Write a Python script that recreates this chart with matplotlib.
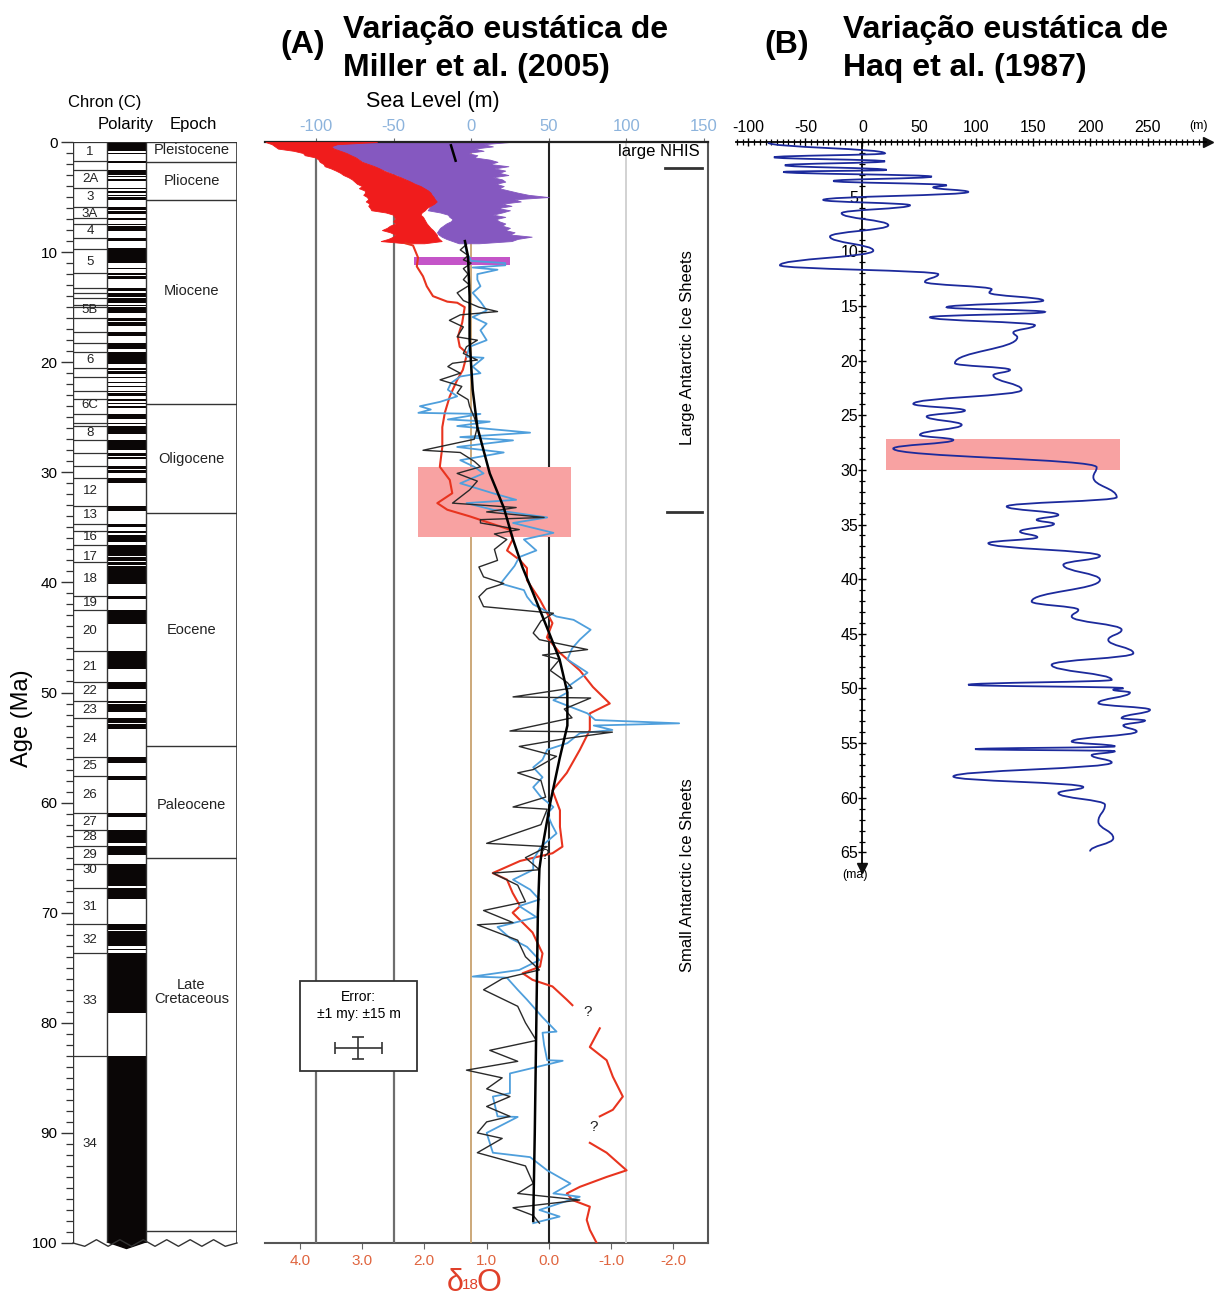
import numpy as np
import matplotlib
matplotlib.use('Agg')
import matplotlib.pyplot as plt
from matplotlib.patches import Rectangle, PathPatch, Polygon
from matplotlib.path import Path
from matplotlib.ticker import FixedLocator

plt.rcParams['font.family'] = ['Liberation Sans', 'DejaVu Sans']
plt.rcParams['axes.unicode_minus'] = False

# ---------------- DATA ----------------
# chron boxes (top age of each chron, Ma)
chron_tops = [0.0, 1.77, 2.58, 4.18, 5.89, 6.94, 7.43, 8.70, 9.74, 11.94, 13.30, 13.70, 14.18,
              14.80, 15.03, 16.01, 17.28, 18.28, 19.05, 20.52, 21.32, 22.59, 23.35, 24.73, 25.50,
              25.82, 27.03, 28.28, 29.40, 30.48, 33.06, 34.66, 35.34, 36.62, 38.11, 41.26, 42.54,
              46.26, 49.04, 50.78, 52.36, 55.90, 57.55, 60.92, 62.50, 63.98, 65.58, 67.74, 71.07,
              73.62, 83.00]
chron_labels = ['1', '2A', '3', '3A', '4', '5', '5B', '6', '6C', '8', '12', '13', '16', '17', '18',
                '19', '20', '21', '22', '23', '24', '25', '26', '27', '28', '29', '30', '31', '32',
                '33', '34']
chron_label_age = [0.9, 3.4, 5.0, 6.5, 8.1, 10.9, 15.3, 19.8, 23.9, 26.4, 31.7, 33.9, 35.9, 37.7,
                   39.7, 41.9, 44.4, 47.7, 49.9, 51.6, 54.2, 56.7, 59.3, 61.8, 63.1, 64.8, 66.1,
                   69.5, 72.5, 78.0, 91.0]

# normal polarity intervals (Ma)
pol_top = [0.00, 0.99, 1.77, 2.58, 3.11, 3.33, 4.18, 4.48, 4.80, 4.98, 5.89, 6.27, 6.94, 7.43, 7.65,
           8.23, 8.70, 9.31, 9.64, 9.74, 9.92, 11.05, 11.48, 11.94, 12.18, 12.78, 12.99, 13.30,
           13.70, 14.18, 14.80, 15.03, 15.16, 16.01, 16.33, 16.54, 17.28, 18.28, 19.05, 20.52,
           20.80, 21.32, 21.77, 22.15, 22.59, 22.80, 23.35, 23.68, 23.99, 24.73, 24.84, 25.50,
           25.82, 25.99, 27.03, 28.28, 28.58, 29.40, 29.77, 30.48, 33.06, 34.66, 35.34, 35.69,
           36.62, 37.50, 37.68, 38.11, 38.50, 41.26, 42.54, 46.26, 49.04, 50.78, 51.00, 52.36,
           52.70, 52.90, 55.90, 57.55, 60.92, 62.50, 63.98, 65.58, 67.74, 71.07, 71.69, 73.30,
           73.62, 83.00]
pol_base = [0.78, 1.07, 1.95, 3.04, 3.22, 3.58, 4.29, 4.62, 4.89, 5.23, 6.14, 6.57, 7.09, 7.56, 8.07,
            8.26, 9.03, 9.37, 9.72, 9.88, 10.95, 11.10, 11.53, 12.08, 12.40, 12.82, 13.03, 13.51,
            14.08, 14.61, 14.89, 15.16, 15.51, 16.29, 16.49, 16.73, 17.62, 18.78, 20.13, 20.73,
            21.08, 21.40, 21.86, 22.25, 22.75, 23.07, 23.53, 23.80, 24.12, 24.78, 25.18, 25.65,
            25.95, 26.55, 27.97, 28.51, 28.75, 29.66, 30.10, 30.94, 33.55, 34.94, 35.53, 36.34,
            37.47, 37.60, 38.03, 38.43, 40.13, 41.52, 43.79, 47.91, 49.71, 50.95, 51.74, 52.66,
            52.76, 53.35, 56.39, 57.91, 61.28, 63.63, 64.75, 67.61, 68.74, 71.59, 73.00, 73.37,
            79.08, 100.0]

epoch_bounds = [0.0, 1.8, 5.3, 23.8, 33.7, 54.9, 65.0, 98.9]
epoch_names = ['Pleistocene', 'Pliocene', 'Miocene', 'Oligocene', 'Eocene', 'Paleocene',
               'Late\nCretaceous']
epoch_label_age = [0.7, 3.5, 13.5, 28.8, 44.3, 60.2, 77.2]

# Panel A: high-resolution bands 0-9.2 Ma
band_age = [0.0, 0.2, 0.4, 0.6, 0.8, 1.0, 1.2, 1.4, 1.6, 1.8, 2.0, 2.2, 2.4, 2.6, 2.8, 3.0, 3.2,
            3.4, 3.6, 3.8, 4.0, 4.2, 4.4, 4.6, 4.8, 5.0, 5.2, 5.4, 5.6, 5.8, 6.0, 6.2, 6.4, 6.6,
            6.8, 7.0, 7.2, 7.4, 7.6, 7.8, 8.0, 8.2, 8.4, 8.6, 8.8, 9.0, 9.2]
purple_sl_low = [-60, -90, -92, -88, -85, -80, -78, -74, -72, -70, -66, -62, -60, -55, -52, -48,
                 -45, -42, -40, -36, -34, -32, -30, -28, -26, -25, -24, -24, -25, -26, -27, -28,
                 -20, -15, -14, -12, -13, -16, -18, -20, -21, -22, -21, -19, -16, -12, -8]
purple_sl_high = [25, 8, 14, 2, 8, -3, 4, 2, 12, 17, 12, 24, 15, 22, 18, 24, 14, 20, 22, 16, 21,
                  18, 24, 30, 37, 50, 28, 32, 20, 26, 17, 25, 20, 14, 22, 16, 18, 22, 20, 25, 22,
                  28, 25, 39, 30, 26, 5]
red_d18o_high = [4.55, 4.45, 4.40, 4.35, 4.10, 3.95, 3.92, 3.75, 3.70, 3.68, 3.62, 3.60, 3.50,
                 3.42, 3.35, 3.30, 3.22, 3.16, 3.12, 3.08, 3.00, 3.05, 2.96, 2.95, 2.98, 2.92,
                 2.90, 2.94, 2.88, 2.90, 2.87, 2.85, 2.62, 2.50, 2.48, 2.47, 2.50, 2.46, 2.55,
                 2.60, 2.68, 2.55, 2.47, 2.50, 2.58, 2.70, 2.30]
red_d18o_low = [2.76, 3.40, 3.50, 3.45, 3.35, 3.25, 3.18, 3.10, 3.05, 3.00, 2.90, 2.80, 2.72,
                2.65, 2.56, 2.47, 2.38, 2.30, 2.22, 2.15, 2.06, 2.00, 1.94, 1.90, 1.88, 1.85,
                1.83, 1.80, 1.84, 1.90, 1.96, 1.99, 2.04, 2.06, 2.02, 2.00, 1.98, 1.96, 1.93,
                1.90, 1.86, 1.83, 1.80, 1.79, 1.76, 1.72, 2.00]

# Panel A: benthic d18O line (NaN = gap)
red_age = [9.2, 9.4, 10.5, 11.3, 12.2, 13.1, 14.0, 14.5, 14.6, 15.0, 16.4, 17.7, 18.6, 19.2, 20.7,
           21.6, 23.1, 24.6, 25.9, 27.7, 29.5, 30.7, 31.9, 32.8, 33.4, 34.0, 34.6, 35.2, 36.1,
           37.1, 38.0, 38.7, 39.8, 41.6, 43.7, 45.0, 46.4, 48.0, 49.5, 51.0, 51.9, 53.4, 55.2,
           57.3, 58.9, 60.7, 62.2, 64.0, 64.6, 65.3, 66.4, 67.0, 68.2, 69.4, 70.0, 71.8, 73.7,
           74.9, 75.5, 76.1, 76.7, 77.9, 78.4, np.nan, 80.5, 82.2, 83.4, 84.9, 86.7, 87.9, 88.5,
           np.nan, 90.9, 91.8, 93.4, 94.0, 94.9, 95.5, 96.1, 96.7, 97.9, 98.8, 100.0]
red_d18o = [2.30, 2.18, 2.10, 2.12, 2.02, 1.96, 1.86, 1.63, 1.47, 1.35, 1.39, 1.46, 1.43, 1.31,
            1.38, 1.47, 1.59, 1.67, 1.71, 1.71, 1.75, 1.59, 1.55, 1.79, 1.63, 1.27, 0.95, 0.63,
            0.58, 0.67, 0.46, 0.35, 0.35, 0.14, -0.06, 0.03, -0.18, -0.50, -0.71, -0.98, -0.66,
            -0.66, -0.50, -0.29, -0.06, -0.18, -0.18, -0.22, -0.06, 0.46, 0.90, 0.67, 0.58, 0.46,
            0.58, 0.26, 0.10, 0.14, 0.42, 0.26, -0.06, -0.29, -0.38, np.nan, -0.82, -0.66, -0.93,
            -1.03, -1.19, -1.03, -0.82, np.nan, -0.66, -0.93, -1.25, -0.93, -0.50, -0.29, -0.38,
            -0.66, -0.61, -0.66, -0.77]

# Panel A: blue sea-level curve (m)
blue_age = [9.3, 10.0, 10.8, 11.0, 11.2, 11.4, 11.6, 12.0, 12.5, 13.1, 13.7, 14.5, 15.3, 15.9,
            16.5, 17.1, 18.0, 18.6, 19.5, 19.6, 20.4, 21.0, 21.3, 21.9, 22.5, 23.1, 23.6, 24.0,
            24.3, 24.6, 24.7, 25.2, 25.4, 25.8, 26.4, 26.8, 27.1, 27.7, 28.2, 28.9, 29.5, 30.1,
            31.0, 31.9, 32.5, 32.8, 33.4, 34.1, 34.6, 35.5, 36.1, 37.1, 37.7, 38.5, 40.1, 40.7,
            41.3, 42.0, 43.1, 43.4, 44.3, 45.2, 46.0, 47.0, 48.2, 49.5, 50.0, 50.7, 51.9, 52.5,
            52.8, 53.0, 53.4, 53.7, 54.6, 55.2, 56.1, 56.8, 57.7, 58.6, 59.5, 60.4, 61.0, 62.0,
            62.8, 64.0, 65.2, 66.1, 67.0, 67.9, 68.8, 69.4, 70.4, 71.3, 72.3, 73.1, 74.3, 75.2,
            75.8, 75.9, 77.0, 77.9, 79.5, 80.8, 80.9, 82.0, 83.4, 83.45, 84.6, 86.4, 86.7, 88.5,
            88.55, 90.0, 91.8, 92.2, 93.4, 94.6, 95.5, 95.8, 97.0, 97.6, 98.2]
blue_sl = [-4, -3, 0, 22, 22, 1, 17, 4, 4, 6, 1, 6, 10, 1, 10, 6, 10, -1, -3, 8, 1, 6, -7, -13,
           -15, -9, -20, -33, -26, -34, 6, -15, 12, -9, 38, -7, 27, -9, 21, -7, 2, 8, -7, 14, 29,
           -3, 14, 49, 27, 53, 34, 42, 31, 28, 19, 34, 36, 40, 55, 66, 77, 70, 65, 62, 75, 62, 62,
           53, 75, 80, 134, 79, 91, 70, 62, 49, 46, 40, 46, 40, 45, 53, 49, 52, 55, 45, 40, 40,
           27, 38, 44, 31, 42, 17, 25, 36, 44, 31, 1, 23, 30, 36, 46, 55, 46, 47, 49, 59, 25, 25,
           14, 17, 30, 10, 14, 38, 49, 64, 53, 70, 44, 57, 40]

# Panel A: black sea-level curve (m)
black_age = [9.3, 9.8, 10.3, 10.7, 11.0, 11.5, 12.0, 12.5, 13.0, 13.7, 14.4, 15.0, 15.4, 15.7,
             16.2, 16.8, 17.7, 18.0, 18.6, 19.2, 19.8, 20.1, 20.4, 21.0, 21.6, 22.2, 22.8, 23.4,
             24.0, 25.0, 25.9, 27.0, 28.0, 28.2, 29.0, 29.5, 30.1, 30.8, 31.6, 32.8, 33.2, 33.6,
             34.1, 34.3, 34.6, 35.2, 35.6, 36.1, 37.0, 38.0, 38.6, 39.5, 40.1, 40.6, 41.3, 42.2,
             42.8, 43.5, 44.6, 45.2, 46.1, 46.6, 47.0, 48.0, 49.1, 49.6, 50.4, 50.5, 51.5, 52.3,
             53.5, 53.6, 54.2, 54.9, 55.8, 57.0, 57.3, 58.0, 59.5, 60.4, 60.6, 62.0, 63.7, 64.0,
             65.0, 66.1, 66.4, 67.5, 69.0, 69.8, 70.9, 71.1, 72.5, 74.0, 75.2, 76.0, 77.0, 78.5,
             80.0, 81.6, 82.5, 83.5, 84.3, 85.0, 86.0, 86.7, 87.6, 88.5, 89.0, 90.0, 90.5, 91.8,
             93.0, 94.6, 95.5, 96.1, 96.8, 97.5, 98.2]
black_sl = [-3, -7, -2, -5, 0, -5, -2, -5, -1, -9, -5, 5, 17, -7, -14, -5, -9, 4, -3, -5, 4, -12,
            -15, -7, -20, -6, -9, -2, -1, 2, 4, 2, -31, -7, 2, 6, -9, 4, -1, -12, 29, 10, 47, 6,
            6, 31, 15, 23, 15, 17, 5, 8, 21, 10, 5, 8, 53, 45, 40, 44, 75, 46, 57, 51, 62, 65, 27,
            77, 60, 65, 25, 91, 60, 31, 55, 40, 30, 45, 48, 27, 49, 45, 10, 49, 35, 44, 14, 30,
            35, 8, 27, 4, 30, 35, 44, 20, 8, 30, 35, 42, 12, 30, -3, 20, 10, 25, 10, 25, 10, 4,
            20, 4, 35, 40, 30, 70, 27, 40, 44]

# Panel A: long-term trend (m)
trend_age = [0.3, 1.7, np.nan, 9.0, 10.4, 14.0, 18.0, 22.5, 25.9, 30.1, 33.2, 36.1, 38.6, 41.0,
             44.5, 47.0, 50.0, 53.0, 56.0, 60.0, 64.0, 66.0, 70.0, 80.0, 90.0, 98.0]
trend_sl = [-13, -10, np.nan, -4, -2, -1, -1, 1, 4, 12, 21, 27, 33, 40, 50, 57, 62, 62, 57, 51,
            46, 44, 43, 42, 41, 40]

# Panel B: Haq et al. (1987) curve turning points
haq_age = [0.06, 1.04, 1.40, 1.77, 2.13, 2.56, 2.74, 3.17, 3.57, 3.96, 4.15, 4.57, 5.30, 5.79,
           6.52, 7.62, 8.66, 9.94, 11.28, 12.10, 12.80, 13.48, 13.78, 14.51, 15.12, 15.55, 16.04,
           16.77, 17.44, 17.87, 20.24, 20.85, 21.34, 22.68, 23.96, 24.57, 25.12, 25.88, 26.80,
           27.26, 28.05, 29.76, 30.67, 32.50, 33.35, 34.12, 34.57, 34.94, 35.64, 36.16, 36.71,
           37.87, 38.69, 40.06, 42.04, 42.80, 43.41, 44.63, 45.55, 46.77, 47.84, 49.21, 49.66,
           49.97, 50.12, 50.37, 51.34, 51.95, 52.71, 52.93, 53.38, 53.93, 54.85, 55.30, 55.55,
           55.73, 56.10, 56.77, 58.05, 59.02, 59.57, 60.64, 62.16, 63.69, 64.91]
haq_sl = [-82.6, 19.7, -77.6, 19.7, -68.0, 21.2, -69.4, 60.7, -25.6, 73.8, 62.1, 92.8, -34.4,
          41.7, -18.3, 22.7, -28.5, 9.5, -72.4, 66.5, 54.8, 113.3, 111.3, 158.6, 73.8, 160.1,
          59.2, 151.3, 132.3, 135.8, 81.1, 129.4, 114.8, 139.6, 44.6, 89.9, 56.3, 87.0, 50.4,
          79.7, 27.0, 205.4, 202.5, 223.0, 126.5, 171.8, 152.8, 168.0, 138.2, 153.4, 110.4,
          208.3, 176.2, 208.3, 148.4, 189.3, 183.5, 227.3, 215.6, 237.6, 165.9, 218.6, 92.8,
          228.8, 220.0, 234.6, 206.9, 252.2, 227.3, 247.8, 228.8, 240.5, 183.5, 221.5, 98.7,
          221.5, 201.0, 218.6, 79.7, 193.7, 171.8, 212.7, 206.9, 220.0, 199.6]

sl_ticks_A = [-100, -50, 0, 50, 100, 150]
d18o_ticks = [4.0, 3.0, 2.0, 1.0, 0.0, -1.0, -2.0]
sl_ticks_B = [-100, -50, 0, 50, 100, 150, 200, 250]
age_ticks_B = [5, 10, 15, 20, 25, 30, 35, 40, 45, 50, 55, 60, 65]


def d2sl(d):
    return 50.0 - 40.1 * np.asarray(d, dtype=float)


def sl2d(s):
    return (50.0 - np.asarray(s, dtype=float)) / 40.1


# ---------------- FIGURE ----------------
W, H = 1221, 1297
fig = plt.figure(figsize=(W / 100, H / 100), dpi=100)


def fx(px):
    return px / W


def fy(py):
    return 1 - py / H


# ---------- chronostratigraphic column ----------
ax_c = fig.add_axes([fx(73), fy(1243), 164 / W, 1101 / H])
ax_c.set_xlim(0, 164)
ax_c.set_ylim(100, 0)
for s in ax_c.spines.values():
    s.set_visible(False)
ax_c.set_xticks([])
ax_c.set_yticks(np.arange(0, 101, 10))
ax_c.yaxis.set_minor_locator(FixedLocator(np.arange(0, 101, 1)))
ax_c.tick_params(axis='y', which='major', length=9, width=1.0, labelsize=11, pad=2, color='#333')
ax_c.tick_params(axis='y', which='minor', length=5, width=0.9, color='#333')
lc = '#333333'
ax_c.plot([0, 0], [0, 100], color=lc, lw=1.0)
ax_c.plot([34, 34], [0, 100], color=lc, lw=1.0)
ax_c.plot([73, 73], [0, 100], color=lc, lw=1.0)
ax_c.plot([164, 164], [0, 100], color=lc, lw=1.2)
ax_c.plot([0, 164], [0, 0], color=lc, lw=1.2)
ax_c.hlines(chron_tops, 0, 34, color=lc, lw=0.9)
pt = np.array(pol_top)
pb = np.array(pol_base)
ax_c.barh((pt + pb) / 2, 39, left=34, height=pb - pt, color='#0a0606', edgecolor='none')
ax_c.hlines(epoch_bounds, 73, 164, color=lc, lw=1.0)
for lab, a in zip(chron_labels, chron_label_age):
    ax_c.text(17, a, lab, ha='center', va='center', fontsize=9.5, color='#222')
for name, a in zip(epoch_names, epoch_label_age):
    ax_c.text(118.5, a, name, ha='center', va='center', fontsize=10.5, color='#222',
              linespacing=0.95)
# wavy break line at the base
wx = np.linspace(0, 164, 15)
wy = 100 + 0.3 * np.array([0, 1, -1, 1, -1, 1, -1, 1, -1, 1, -1, 1, -1, 1, 0])
ax_c.plot(wx, wy, color=lc, lw=1.0, clip_on=False)
ax_c.add_patch(Polygon([[34, 99.9], [73, 99.9], [53.5, 100.5]], closed=True, color='#0a0606',
                       clip_on=False))

fig.text(fx(105), fy(103), 'Chron (C)', ha='center', va='center', fontsize=12)
fig.text(fx(126), fy(125), 'Polarity', ha='center', va='center', fontsize=12)
fig.text(fx(193), fy(125), 'Epoch', ha='center', va='center', fontsize=12)
fig.text(fx(22), fy(718), 'Age (Ma)', ha='center', va='center', fontsize=17, rotation=90)

# ---------- Panel A ----------
ax_a = fig.add_axes([fx(265), fy(1243), 443 / W, 1101 / H])
ax_a.set_xlim(-132.8, 152.6)
ax_a.set_ylim(100, 0)
ax_a.spines['left'].set_visible(False)
ax_a.spines['top'].set_color('#222')
ax_a.spines['top'].set_linewidth(1.6)
ax_a.spines['right'].set_color('#555')
ax_a.spines['right'].set_linewidth(1.5)
ax_a.spines['bottom'].set_visible(False)
ax_a.set_yticks([])
ax_a.xaxis.tick_top()
ax_a.set_xticks(sl_ticks_A)
ax_a.tick_params(axis='x', top=True, bottom=False, length=3, color='#666', labelsize=12,
                 labelcolor='#8cb3dc', pad=3)
ax_a.axvline(-100, color='#6e6e6e', lw=1.6, zorder=1)
ax_a.axvline(-50, color='#6e6e6e', lw=1.6, zorder=1)
ax_a.axvline(0, color='#c49a62', lw=1.2, zorder=1)
ax_a.axvline(50, color='#222222', lw=1.5, zorder=1)
ax_a.axvline(100, color='#cfcfcf', lw=1.3, zorder=1)

sec = ax_a.secondary_xaxis('bottom', functions=(sl2d, d2sl))
sec.set_xticks(d18o_ticks)
sec.set_xticklabels([f'{v:.1f}' for v in d18o_ticks])
sec.tick_params(axis='x', length=4, color='#666', labelsize=11, labelcolor='#e0653f', pad=4)
sec.spines['bottom'].set_color('#555')
sec.spines['bottom'].set_linewidth(1.5)

ax_a.add_patch(Rectangle((-34, 29.5), 98.3, 6.4, facecolor='#f8a2a2', edgecolor='none',
                         zorder=1.5))
ax_a.add_patch(Rectangle((-36.7, 10.4), 61.7, 0.8, facecolor='#c455c8', edgecolor='none',
                         zorder=2))

ax_a.fill_betweenx(band_age, purple_sl_low, purple_sl_high, color='#8558c0', lw=0.6, zorder=2.5)
ax_a.fill_betweenx(band_age, d2sl(red_d18o_high), d2sl(red_d18o_low), color='#f01c1c', lw=0.6,
                   zorder=3)
ax_a.plot(d2sl(red_d18o), red_age, color='#e8341f', lw=1.5, zorder=3)
ax_a.plot(blue_sl, blue_age, color='#4f9fdc', lw=1.3, zorder=4)
ax_a.plot(black_sl, black_age, color='#2a2a2a', lw=1.0, zorder=4.5)
ax_a.plot(trend_sl, trend_age, color='#000000', lw=1.8, zorder=5)

ax_a.text(147.5, 0.9, 'large NHIS', ha='right', va='center', fontsize=12)
ax_a.plot([124.8, 149], [2.36, 2.36], color='#333', lw=2)
ax_a.plot([126, 149], [33.6, 33.6], color='#333', lw=2)
ax_a.text(139.5, 18.7, 'Large Antarctic Ice Sheets', rotation=90, ha='center', va='center',
          fontsize=12)
ax_a.text(139.5, 66.6, 'Small Antarctic Ice Sheets', rotation=90, ha='center', va='center',
          fontsize=12)
for q in [(47.6, 64.8), (75, 79.0), (79, 89.5)]:
    ax_a.text(q[0], q[1], '?', ha='center', va='center', fontsize=11, color='#222', zorder=6)

ax_a.add_patch(Rectangle((-110, 76.2), 75.3, 8.2, facecolor='white', edgecolor='#333', lw=1.3,
                         zorder=6))
ax_a.text(-72.5, 77.7, 'Error:', ha='center', va='center', fontsize=10, zorder=7)
ax_a.text(-72.5, 79.2, '±1 my: ±15 m', ha='center', va='center', fontsize=10, zorder=7)
ax_a.errorbar([-72.7], [82.3], xerr=15, yerr=1, fmt='none', ecolor='#333', elinewidth=1.2,
              capsize=4, capthick=1.2, zorder=7)

fig.text(fx(433), fy(101), 'Sea Level (m)', ha='center', va='center', fontsize=15.5)
red_lab = '#e0402a'
fig.text(fx(447), fy(1291), 'δ', ha='left', va='baseline', fontsize=22, color=red_lab)
fig.text(fx(462), fy(1289), '18', ha='left', va='baseline', fontsize=11, color=red_lab)
fig.text(fx(477), fy(1291), 'O', ha='left', va='baseline', fontsize=23, color=red_lab)

# ---------- Panel B ----------
ax_b = fig.add_axes([fx(700), fy(900), 515 / W, 800 / H])
ax_b.patch.set_visible(False)
ax_b.set_xlim(-142.5, 309.2)
ax_b.set_ylim(69.35, -3.84)
ax_b.spines['bottom'].set_visible(False)
ax_b.spines['right'].set_visible(False)
ax_b.spines['left'].set_position(('data', 0))
ax_b.spines['left'].set_bounds(0, 66)
ax_b.spines['top'].set_position(('data', 0))
ax_b.spines['top'].set_bounds(-111, 301)
for s in ['left', 'top']:
    ax_b.spines[s].set_linewidth(1.3)
ax_b.xaxis.set_ticks_position('top')
ax_b.yaxis.set_ticks_position('left')
ax_b.set_xticks(sl_ticks_B)
ax_b.xaxis.set_minor_locator(FixedLocator(np.arange(-110, 301, 5)))
ax_b.set_yticks(age_ticks_B)
ax_b.yaxis.set_minor_locator(FixedLocator(np.arange(0, 66, 1)))
ax_b.tick_params(axis='x', which='major', direction='inout', length=6, width=1.0, labelsize=11.5,
                 pad=2)
ax_b.tick_params(axis='x', which='minor', direction='inout', length=4, width=0.9)
ax_b.tick_params(axis='y', which='major', direction='inout', length=6, width=1.0, labelsize=11.5,
                 pad=0)
ax_b.tick_params(axis='y', which='minor', direction='inout', length=4, width=0.9)
ax_b.plot([303], [0], marker='>', ms=7, color='#111', clip_on=False)
ax_b.plot([0], [66.4], marker='v', ms=7, color='#111', clip_on=False)

ax_b.add_patch(Rectangle((21, 27.2), 205, 2.8, facecolor='#f8a2a2', edgecolor='none', zorder=1))

k = 0.45
verts = [(haq_sl[0], haq_age[0])]
codes = [Path.MOVETO]
for i in range(1, len(haq_sl)):
    sa, ta = haq_sl[i - 1], haq_age[i - 1]
    sb, tb = haq_sl[i], haq_age[i]
    dt = tb - ta
    verts += [(sa, ta + k * dt), (sb, tb - k * dt), (sb, tb)]
    codes += [Path.CURVE4] * 3
ax_b.add_patch(PathPatch(Path(verts, codes), facecolor='none', edgecolor='#1c2a9c', lw=1.3,
                         zorder=3))

fig.text(fx(1198), fy(126), '(m)', ha='center', va='center', fontsize=9)
fig.text(fx(855), fy(875), '(ma)', ha='center', va='center', fontsize=9)

# ---------- titles ----------
tf = dict(fontsize=23, fontweight='bold')
fig.text(fx(303), fy(45), '(A)', ha='center', va='center', **tf)
fig.text(fx(343), fy(38), 'Variação eustática de', ha='left', va='baseline', **tf)
fig.text(fx(343), fy(76), 'Miller et al. (2005)', ha='left', va='baseline', **tf)
fig.text(fx(787), fy(45), '(B)', ha='center', va='center', **tf)
fig.text(fx(843), fy(38), 'Variação eustática de', ha='left', va='baseline', **tf)
fig.text(fx(843), fy(76), 'Haq et al. (1987)', ha='left', va='baseline', **tf)

fig.savefig('out.png', dpi=100)
